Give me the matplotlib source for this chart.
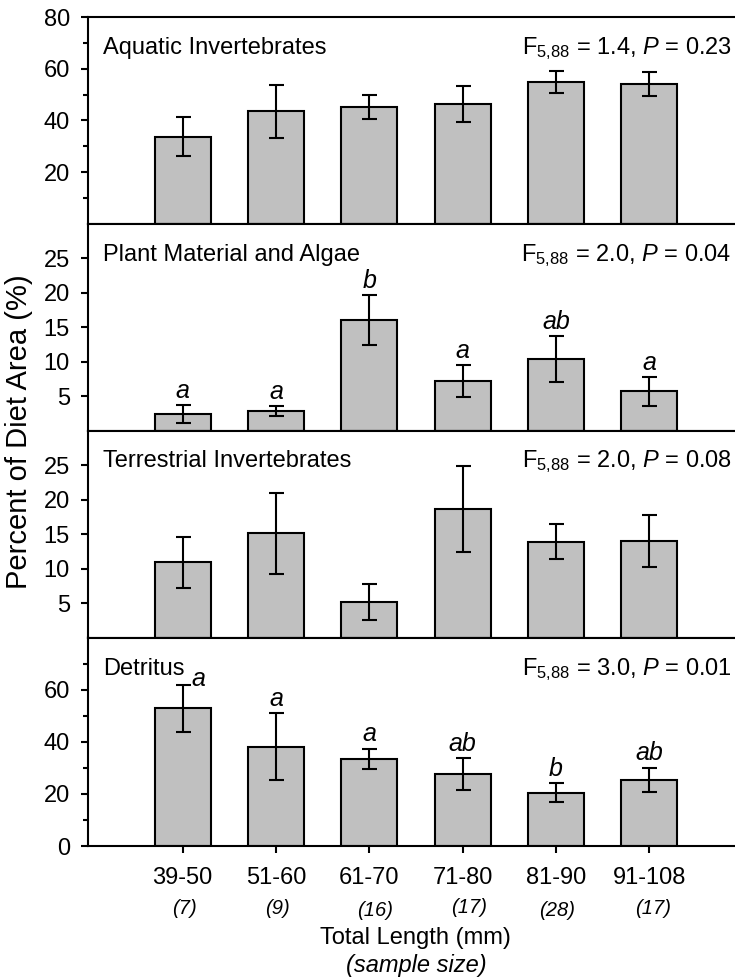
import matplotlib
matplotlib.use('Agg')
import matplotlib.pyplot as plt

plt.rcParams['font.family'] = ['Liberation Sans', 'DejaVu Sans']
plt.rcParams['mathtext.fontset'] = 'custom'
plt.rcParams['mathtext.rm'] = 'Liberation Sans'
plt.rcParams['mathtext.it'] = 'Liberation Sans:italic'

# ---------------- data ----------------
length_classes = ['39-50', '51-60', '61-70', '71-80', '81-90', '91-108']
sample_sizes = [7, 9, 16, 17, 28, 17]

aquatic_mean = [33.7, 43.5, 45.3, 46.3, 55.0, 54.1]
aquatic_se = [7.5, 10.1, 4.6, 6.9, 4.3, 4.8]

plant_mean = [2.4, 2.85, 16.1, 7.2, 10.4, 5.7]
plant_se = [1.35, 0.7, 3.6, 2.35, 3.35, 2.1]
plant_letters = ['a', 'a', 'b', 'a', 'ab', 'a']

terr_mean = [10.9, 15.1, 5.1, 18.6, 13.9, 14.0]
terr_se = [3.7, 5.85, 2.6, 6.2, 2.55, 3.75]

detritus_mean = [52.8, 38.1, 33.4, 27.6, 20.5, 25.5]
detritus_se = [9.1, 12.8, 4.0, 6.2, 3.8, 4.6]
detritus_letters = ['a', 'a', 'a', 'ab', 'b', 'ab']

panel_titles = ['Aquatic Invertebrates', 'Plant Material and Algae',
                'Terrestrial Invertebrates', 'Detritus']
f_values = ['1.4', '2.0', '2.0', '3.0']
p_values = ['0.23', '0.04', '0.08', '0.01']

means = [aquatic_mean, plant_mean, terr_mean, detritus_mean]
ses = [aquatic_se, plant_se, terr_se, detritus_se]
letters = [None, plant_letters, None, detritus_letters]
ylims = [(0, 80), (0, 30), (0, 30), (0, 80)]
major_ticks = [[20, 40, 60, 80], [5, 10, 15, 20, 25], [5, 10, 15, 20, 25], [0, 20, 40, 60]]
minor_ticks = [[10, 30, 50, 70], [], [], [10, 30, 50, 70]]

# ---------------- layout ----------------
W, H = 735, 980
fig = plt.figure(figsize=(W / 100, H / 100), dpi=100)
bounds_px = [17, 224, 430.6, 637.5, 846]
left_px = 88
FS = 17
LW = 1.5

x = list(range(len(length_classes)))
axes = []
for k in range(4):
    top = 1 - bounds_px[k] / H
    bot = 1 - bounds_px[k + 1] / H
    ax = fig.add_axes([left_px / W, bot, 1 - left_px / W, top - bot])
    axes.append(ax)
    ax.bar(x, means[k], width=0.6, color='#c0c0c0', edgecolor='black',
           linewidth=LW, zorder=2)
    ax.errorbar(x, means[k], yerr=ses[k], fmt='none', ecolor='black',
                elinewidth=LW, capsize=5.4, capthick=LW, zorder=3)
    ax.set_xlim(-1.015, 5.92)
    ax.set_ylim(*ylims[k])
    ax.set_yticks(major_ticks[k])
    ax.set_yticks(minor_ticks[k], minor=True)
    ax.tick_params(axis='y', which='major', direction='out', length=5,
                   width=LW, labelsize=FS, pad=8)
    ax.tick_params(axis='y', which='minor', direction='out', length=3.5,
                   width=LW)
    for s in ['left', 'top', 'bottom']:
        ax.spines[s].set_linewidth(LW)
    ax.spines['right'].set_visible(False)

    ax.text(0.023, 0.822, panel_titles[k], transform=ax.transAxes,
            fontsize=FS, ha='left', va='baseline')
    ax.text(0.995, 0.822,
            r'F$_{5{,}88}$ = ' + f_values[k] + r', $\mathit{P}$ = ' + p_values[k],
            transform=ax.transAxes, fontsize=FS, ha='right', va='baseline')

    if k < 3:
        ax.tick_params(axis='x', which='both', bottom=False, labelbottom=False)
    else:
        ax.set_xticks(x)
        ax.set_xticklabels(length_classes)
        ax.tick_params(axis='x', which='major', direction='out', length=5,
                       width=LW, labelsize=FS, pad=10)

# significance letters
letter_dx = {3: [11, 0, 0, 0, 0, 0]}
letter_dy = {3: [-6, 0, 0, 0, 0, 0]}
for k in range(4):
    if letters[k] is None:
        continue
    dxs = letter_dx.get(k, [0] * 6)
    dys = letter_dy.get(k, [0] * 6)
    for i, lab in enumerate(letters[k]):
        axes[k].annotate(lab, xy=(x[i], means[k][i] + ses[k][i]),
                         xytext=(dxs[i], 1.5 + dys[i]), textcoords='offset points',
                         ha='center', va='bottom', fontsize=18, style='italic',
                         zorder=4)

# sample sizes under tick labels
ax4 = axes[3]
n_dx = [1, 1, 4, 5, 1, 3]
n_dy = [0, 0, -1.5, 0.5, -1.5, -0.5]
for i, n in enumerate(sample_sizes):
    ax4.annotate(f'({n})', xy=(x[i], 0), xycoords=('data', 'axes fraction'),
                 xytext=(n_dx[i], -38 + n_dy[i]), textcoords='offset points',
                 ha='center', va='top', fontsize=14.5, style='italic')

# axis titles
ax4.annotate('Total Length (mm)', xy=(2.5, 0), xycoords=('data', 'axes fraction'),
             xytext=(0, -58), textcoords='offset points',
             ha='center', va='top', fontsize=FS)
ax4.annotate('(sample size)', xy=(2.5, 0), xycoords=('data', 'axes fraction'),
             xytext=(0, -78), textcoords='offset points',
             ha='center', va='top', fontsize=FS, style='italic')

fig.text(0.026, 1 - 431.5 / H, 'Percent of Diet Area (%)', rotation=90,
         ha='center', va='center', fontsize=21)

fig.savefig('out.png', dpi=100)
